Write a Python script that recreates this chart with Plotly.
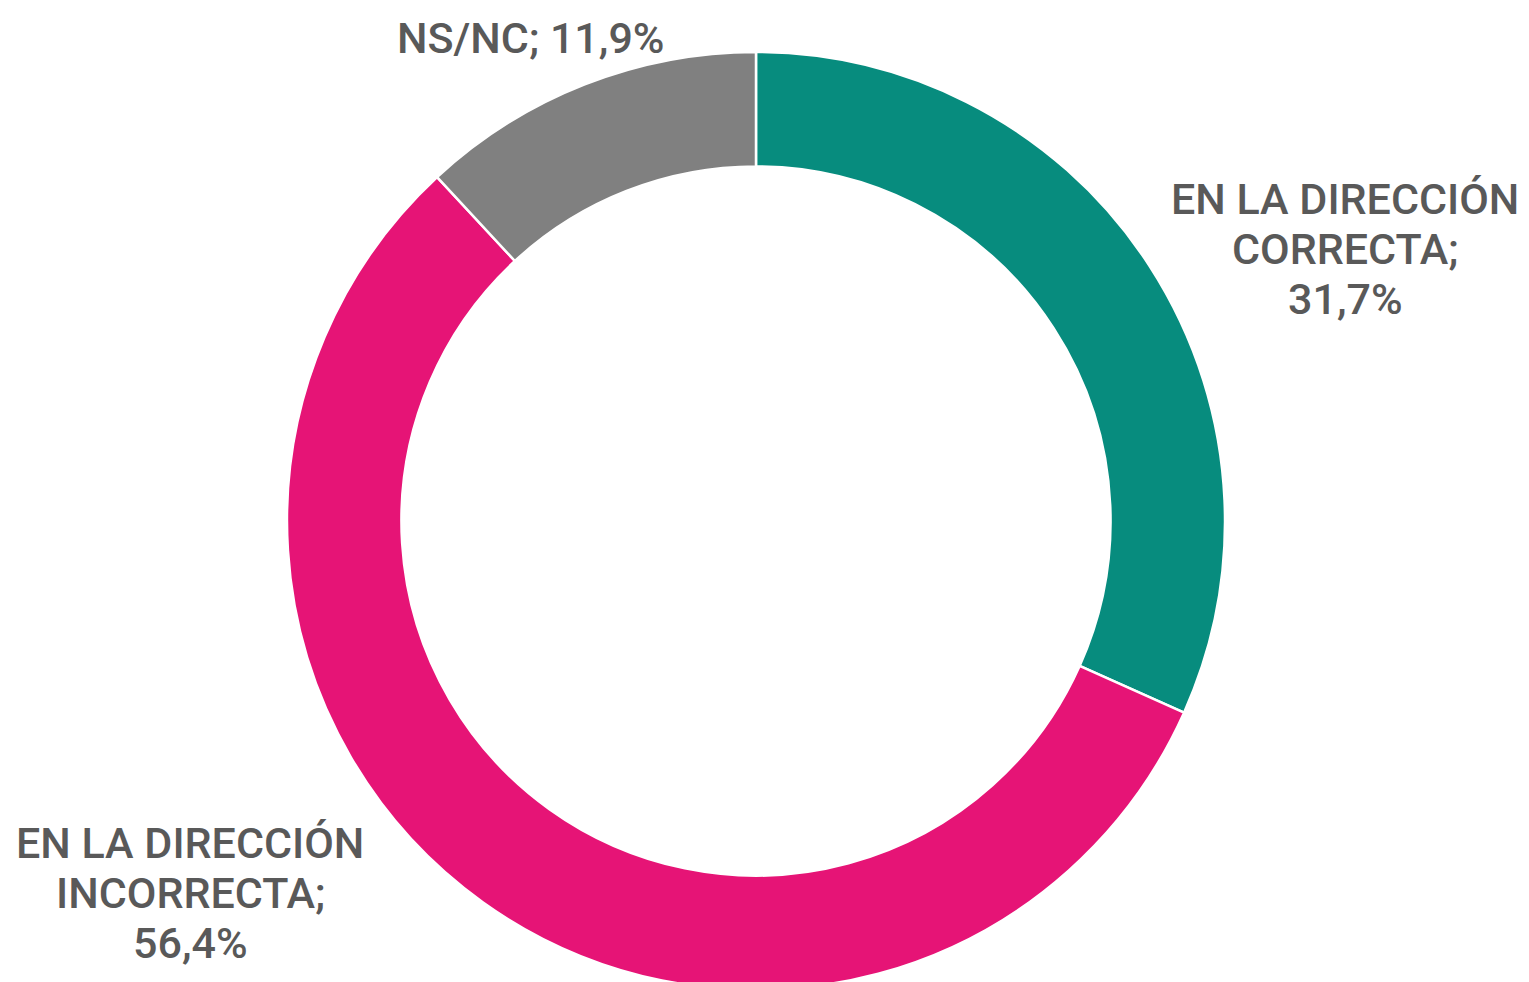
import plotly.graph_objects as go

labels = ["EN LA DIRECCIÓN<br>CORRECTA;", "EN LA DIRECCIÓN<br>INCORRECTA;", "NS/NC;"]
values = [31.7, 56.4, 11.9]
colors = ["#078C7E", "#E61476", "#808080"]

W, H = 1529, 982
OFF = 8  # page body margin
ml, mr, mt, mb = 0, 33, 44, 0
pw, ph = W - ml - mr, H - mt - mb

fig = go.Figure(go.Pie(
    labels=labels, values=values, hole=0.756, sort=False,
    direction="clockwise", rotation=0,
    marker=dict(colors=colors, line=dict(color="white", width=2.5)),
    textinfo="none", hoverinfo="label+percent", showlegend=False,
))

def fmt(v):
    return f"{v:.1f}".replace(".", ",") + "%"

# label block: center x and first-line center y in screen pixels
label_pos = [(1345, 199), (190, 843), (531, 38)]
LINE = 50
for lab, v, (px, py) in zip(labels, values, label_pos):
    parts = lab.split("<br>")
    if len(parts) > 1:
        lines = parts + [fmt(v)]
    else:
        lines = [parts[0] + " " + fmt(v)]
    for i, t in enumerate(lines):
        sx = px - OFF
        sy = py + i * LINE - OFF
        fig.add_annotation(
            text=t,
            x=(sx - ml) / pw, y=(H - mb - sy) / ph, xref="paper", yref="paper",
            xanchor="center", yanchor="middle", showarrow=False, align="center",
            font=dict(family="Roboto", size=43, color="#595959", weight=500),
        )

fig.update_layout(
    width=W, height=H, margin=dict(l=ml, r=mr, t=mt, b=mb),
    paper_bgcolor="white", plot_bgcolor="white",
)
fig.write_html("out.html")
